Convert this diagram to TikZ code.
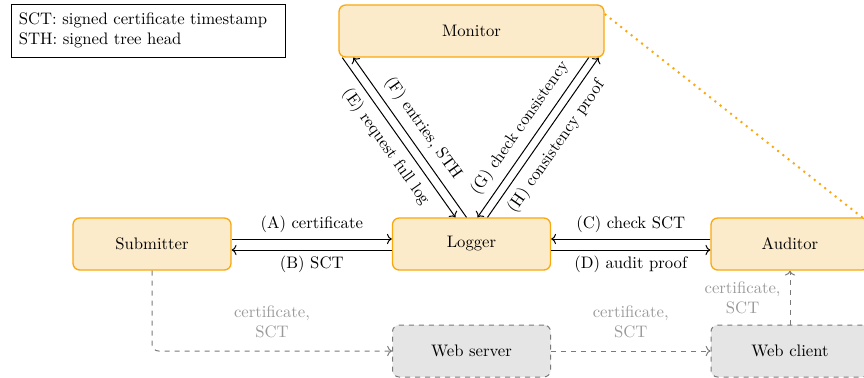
\documentclass[tikz,border=0pt]{standalone}
\usetikzlibrary{calc,arrows.meta,backgrounds}
\definecolor{boxfill}{HTML}{FCEBCA}
\definecolor{boxdraw}{HTML}{F9A80E}
\definecolor{webfill}{HTML}{E5E5E5}
\definecolor{webdraw}{HTML}{7A7A7A}
\definecolor{labgray}{HTML}{9A9A9A}
\tikzset{
  party/.style={draw=boxdraw, fill=boxfill, thick, rounded corners=4pt, minimum width=94.8pt, minimum height=31.2pt},
  webbox/.style={draw=webdraw, fill=webfill, semithick, dashed, rounded corners=4pt, minimum width=94.8pt, minimum height=31.2pt},
  msg/.style={->, semithick},
  webmsg/.style={->, semithick, dashed, draw=webdraw},
  weblab/.style={text=labgray, align=center},
  monlink/.style={draw=boxdraw, line width=1.2pt, dash pattern=on 1.2pt off 2.8pt},
}
\begin{document}
\begin{tikzpicture}[x=0.6pt,y=-0.6pt]
\useasboundingbox (0,0) rectangle (864,377);
\node[draw, thin, minimum width=164.4pt, minimum height=31.8pt, align=left, text width=155pt, inner sep=4pt] (legend) at (148,30.5) {SCT: signed certificate timestamp\\STH: signed tree head};
\node[party, minimum width=159pt] (monitor) at (471.5,31) {Monitor};
\node[party] (submitter) at (152,244) {Submitter};
\node[party] (logger) at (471.5,244) {Logger};
\node[party] (auditor) at (790,244) {Auditor};
\node[webbox] (webserver) at (471.5,351) {Web server};
\node[webbox] (webclient) at (790,351) {Web client};
\coordinate (monlinkA) at ($(monitor.east)+(0,-17)$);
\coordinate (monlinkB) at ($(auditor.north east)+(0,6)$);
\begin{scope}[on background layer]
\draw[monlink] (monlinkA) -- (monlinkB);
\end{scope}
% A / B
\draw[msg] ($(submitter.east)+(0,-5)$) -- node[above, pos=0.5] {(A) certificate} ($(logger.west)+(0,-5)$);
\draw[msg] ($(logger.west)+(0,6)$) -- node[below, pos=0.5] {(B) SCT} ($(submitter.east)+(0,6)$);
% C / D
\draw[msg] ($(auditor.west)+(0,-5)$) -- node[above] {(C) check SCT} ($(logger.east)+(0,-5)$);
\draw[msg] ($(logger.east)+(0,6)$) -- node[below] {(D) audit proof} ($(auditor.west)+(0,6)$);
% E F
\draw[msg] ($(monitor.south west)+(4,0)$) -- node[sloped, below=1pt] {(E) request full log} ($(logger.north)+(-16,0)$);
\draw[msg] ($(logger.north)+(-5,0)$) -- node[sloped, above=1pt] {(F) entries, STH} ($(monitor.south west)+(15,0)$);
% G H
\draw[msg] ($(monitor.south east)+(-16,0)$) -- node[sloped, above=1pt] {(G) check consistency} ($(logger.north)+(6,0)$);
\draw[msg] ($(logger.north)+(16,0)$) -- node[sloped, below=1pt] {(H) consistency proof} ($(monitor.south east)+(-6,0)$);
% web
\draw[webmsg, rounded corners=4pt] (submitter.south) |- node[pos=0.75, above=4pt, weblab] {certificate,\\SCT} (webserver.west);
\draw[webmsg] (webserver.east) -- node[above=4pt, weblab] {certificate,\\SCT} (webclient.west);
\draw[webmsg] (webclient.north) -- node[left=2pt, weblab] {certificate,\\SCT} (auditor.south);
\end{tikzpicture}
\end{document}
